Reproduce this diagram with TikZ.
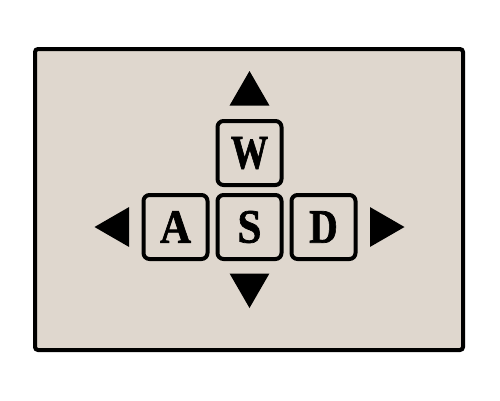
\documentclass[tikz,border=0pt]{standalone}
\usepackage{tikz}
\usepackage{fontspec}
\usetikzlibrary{positioning, shapes.geometric}
\newfontfamily\keyfont{Liberation Serif}[BoldFeatures={FakeBold=1.5}]
\definecolor{panel}{RGB}{223,215,206}

\begin{document}
\begin{tikzpicture}[x=1pt, y=-1pt,
    key/.style={draw, line width=4pt, rounded corners=6pt, fill=panel,
                minimum size=64pt, inner sep=0pt,
                font=\keyfont\bfseries\fontsize{48}{48}\selectfont},
    arrowtip/.style={regular polygon, regular polygon sides=3, fill=black,
                     minimum size=46pt, inner sep=0pt},
    node distance=6pt]
  \useasboundingbox (0,0) rectangle (500,400);
  \draw[line width=4pt, rounded corners=3pt, fill=panel] (35,49) rectangle (463,350);
  % keys
  \node[key] (S) at (249.5,227) {\scalebox{0.9}[1]{S}};
  \node[key, left=of S] (A) {\scalebox{0.9}[1]{A}};
  \node[key, right=of S] (D) {\scalebox{0.82}[1]{D}};
  \node[key, above=of S] (W) {\scalebox{0.78}[1]{W}};
  % arrows round the keys
  \node[arrowtip] (up) at ([yshift=59pt]W) {};
  \node[arrowtip, shape border rotate=180] (down) at ([yshift=-58pt]S) {};
  \node[arrowtip, shape border rotate=90] (left) at ([xshift=-58pt]A) {};
  \node[arrowtip, shape border rotate=-90] (right) at ([xshift=58pt]D) {};
\end{tikzpicture}
\end{document}
